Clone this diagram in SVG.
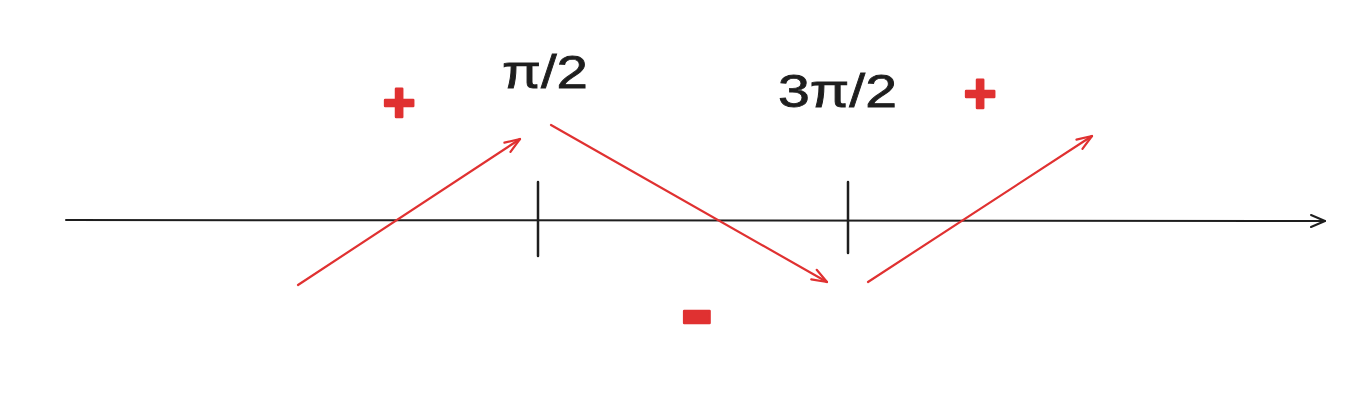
<svg xmlns="http://www.w3.org/2000/svg" width="1372" height="412" viewBox="0 0 1372 412">
  <style>
    .axis { stroke: #1e1e1e; stroke-width: 2; fill: none; stroke-linecap: round; }
    .tick { stroke: #1e1e1e; stroke-width: 2.5; fill: none; stroke-linecap: round; }
    .red { stroke: #e03131; stroke-width: 2.2; fill: none; stroke-linecap: round; }
    .lbl { font-family: "Liberation Sans", "DejaVu Sans", sans-serif; font-size: 46px; fill: #1e1e1e; stroke: #1e1e1e; stroke-width: 0.8; }
    .sign { font-family: "Liberation Sans", Arial, sans-serif; font-weight: bold; fill: #e03131; stroke: #e03131; stroke-width: 2.5; stroke-linejoin: round; text-anchor: middle; }
  </style>
  <defs>
    <marker id="ahBlack" markerUnits="userSpaceOnUse" viewBox="-16 -8 18 16" refX="0" refY="0" markerWidth="18" markerHeight="16" orient="auto" overflow="visible">
      <path d="M-14,-6 L0,0 L-14,6" fill="none" stroke="#1e1e1e" stroke-width="2" stroke-linecap="round" stroke-linejoin="round"/>
    </marker>
    <marker id="ahRed" markerUnits="userSpaceOnUse" viewBox="-17 -8 19 16" refX="0" refY="0" markerWidth="19" markerHeight="16" orient="auto" overflow="visible">
      <path d="M-15,-5.5 L0,0 L-15,5.5" fill="none" stroke="#e03131" stroke-width="2.2" stroke-linecap="round" stroke-linejoin="round"/>
    </marker>
  </defs>

  <g id="connectors">
    <path id="axis" class="axis" d="M66,220 L1325,221" marker-end="url(#ahBlack)"/>
    <path id="arrow1" class="red" d="M298,285 L520,139" marker-end="url(#ahRed)"/>
    <path id="arrow2" class="red" d="M551,125 L827,282" marker-end="url(#ahRed)"/>
    <path id="arrow3" class="red" d="M868,282 L1092,136" marker-end="url(#ahRed)"/>
  </g>

  <g id="tick-pi2">
    <line class="tick" x1="538" y1="182" x2="538" y2="256"/>
  </g>
  <g id="tick-3pi2">
    <line class="tick" x1="848" y1="182" x2="848" y2="253"/>
  </g>

  <g id="label-pi2">
    <text class="lbl" x="502" y="88" textLength="86" lengthAdjust="spacingAndGlyphs">π/2</text>
  </g>
  <g id="label-3pi2">
    <text class="lbl" x="778" y="107" textLength="119" lengthAdjust="spacingAndGlyphs">3π/2</text>
  </g>

  <g id="sign-plus-left">
    <text class="sign" x="399" y="121" font-size="56">+</text>
  </g>
  <g id="sign-minus">
    <text class="sign" x="697" y="343" font-size="100">-</text>
  </g>
  <g id="sign-plus-right">
    <text class="sign" x="980" y="112" font-size="56">+</text>
  </g>
</svg>
